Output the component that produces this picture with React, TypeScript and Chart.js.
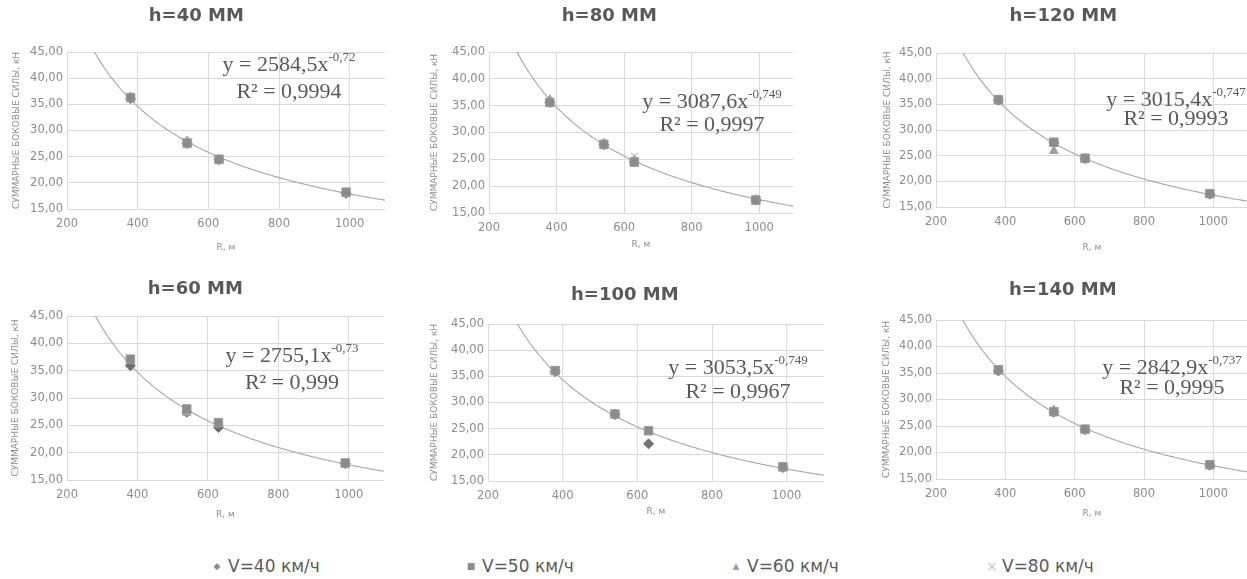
import React, { useEffect, useRef } from 'react';
import { Chart, registerables } from 'chart.js';

Chart.register(...registerables);

// ---------- DATA ----------
const R_VALUES = [380, 540, 630, 990];
const PANEL_TITLES = ['h=40 ММ', 'h=60 ММ', 'h=80 ММ', 'h=100 ММ', 'h=120 ММ', 'h=140 ММ'];
const SERIES_NAMES = ['V=40 км/ч', 'V=50 км/ч', 'V=60 км/ч', 'V=80 км/ч'];

const H40_V40 = [36.1, 27.5, 24.4, 18.0];
const H40_V50 = [36.3, 27.6, 24.5, 18.2];
const H40_V60 = [36.4, 28.0, 24.5, 18.2];
const H40_V80 = [36.2, 27.7, 24.4, 18.1];

const H60_V40 = [35.9, 27.4, 24.6, 18.0];
const H60_V50 = [37.1, 28.0, 25.5, 18.1];
const H60_V60 = [36.9, 27.3, 25.2, 18.0];
const H60_V80 = [37.0, 27.8, 25.0, 18.1];

const H80_V40 = [35.6, 27.7, 24.5, 17.4];
const H80_V50 = [35.6, 27.8, 24.5, 17.4];
const H80_V60 = [36.1, 28.0, 24.8, 17.5];
const H80_V80 = [35.8, 27.7, 25.6, 17.3];

const H100_V40 = [35.9, 27.7, 22.1, 17.6];
const H100_V50 = [36.1, 27.8, 24.6, 17.7];
const H100_V60 = [35.9, 27.6, 24.4, 17.6];
const H100_V80 = [36.0, 27.7, 24.7, 17.7];

const H120_V40 = [35.8, 27.5, 24.4, 17.5];
const H120_V50 = [35.9, 27.6, 24.5, 17.6];
const H120_V60 = [35.9, 25.9, 24.4, 17.5];
const H120_V80 = [35.8, 28.0, 24.6, 17.6];

const H140_V40 = [35.4, 27.6, 24.3, 17.6];
const H140_V50 = [35.6, 27.7, 24.4, 17.7];
const H140_V60 = [35.5, 28.0, 24.3, 17.6];
const H140_V80 = [35.5, 27.7, 24.4, 17.6];

const PANEL_SERIES = [
  [H40_V40, H40_V50, H40_V60, H40_V80],
  [H60_V40, H60_V50, H60_V60, H60_V80],
  [H80_V40, H80_V50, H80_V60, H80_V80],
  [H100_V40, H100_V50, H100_V60, H100_V80],
  [H120_V40, H120_V50, H120_V60, H120_V80],
  [H140_V40, H140_V50, H140_V60, H140_V80],
];

// Power trendline y = A * x^B shown on each panel
const FIT_A = [2584.5, 2755.1, 3087.6, 3053.5, 3015.4, 2842.9];
const FIT_B = [-0.72, -0.73, -0.749, -0.749, -0.747, -0.737];
const FIT_R2 = ['0,9994', '0,999', '0,9997', '0,9967', '0,9993', '0,9995'];

const X_TICKS = [200, 400, 600, 800, 1000];
const Y_TICKS = [15, 20, 25, 30, 35, 40, 45];
const X_MIN = 200;
const X_MAX = 1100;
const Y_MIN = 15;
const Y_MAX = 45;
const Y_AXIS_TITLE = 'СУММАРНЫЕ БОКОВЫЕ СИЛЫ, кН';
const X_AXIS_TITLE = 'R, м';

// ---------- LAYOUT (page pixels) ----------
const LAYOUT = [
  { L: 0, T: 0, W: 415, H: 258, pl: 67, pr: 385, pt: 52, pb: 209, titleCY: 16, yTitleCX: 17, xTitleCY: 248, eq: [222, 13, 40] },
  { L: 0, T: 270, W: 415, H: 258, pl: 67, pr: 384, pt: 316, pb: 480, titleCY: 289, yTitleCX: 16, xTitleCY: 515, eq: [225, 40, 67] },
  { L: 425, T: 0, W: 430, H: 258, pl: 489, pr: 793, pt: 52, pb: 213, titleCY: 16, yTitleCX: 435, xTitleCY: 245, eq: [223, 50, 73] },
  { L: 415, T: 270, W: 430, H: 258, pl: 488, pr: 824, pt: 324, pb: 481, titleCY: 295, yTitleCX: 435, xTitleCY: 512, eq: [250, 44, 68] },
  { L: 850, T: 0, W: 430, H: 258, pl: 936, pr: 1248, pt: 53, pb: 207, titleCY: 16, yTitleCX: 888, xTitleCY: 248, eq: [240, 47, 66] },
  { L: 853, T: 270, W: 430, H: 258, pl: 936, pr: 1248, pt: 320, pb: 479, titleCY: 290, yTitleCX: 887, xTitleCY: 514, eq: [236, 48, 68] },
];

const SERIES_STYLE = [
  { pointStyle: 'rectRot', radius: 5, bg: '#707070', border: '#707070', bw: 1, order: 2 },
  { pointStyle: 'rect', radius: 6, bg: '#8c8c8c', border: '#9a9a9a', bw: 1, order: 0 },
  { pointStyle: 'triangle', radius: 5, bg: '#a0a0a0', border: '#a0a0a0', bw: 1, order: 1 },
  { pointStyle: 'crossRot', radius: 4.5, bg: '#c4c4c4', border: '#c4c4c4', bw: 1.3, order: 3 },
];

const TITLE_FONT = 18;
const AXIS_TITLE_FONT = 9;
const TICK_FONT = 11.5;

const fmt = (v: number) => String(v).replace('.', ',');

function trendPoints(a: number, b: number) {
  const x0 = Math.pow(Y_MAX / a, 1 / b);
  const pts: { x: number; y: number }[] = [{ x: x0, y: Y_MAX }];
  for (let x = Math.ceil(x0 / 5) * 5; x <= X_MAX; x += 5) {
    pts.push({ x, y: a * Math.pow(x, b) });
  }
  return pts;
}

const equationPlugin = {
  id: 'equation',
  afterDraw(chart: any, _args: any, opts: any) {
    if (!opts || !opts.main) return;
    const { ctx, chartArea } = chart;
    ctx.save();
    ctx.fillStyle = '#595959';
    ctx.textBaseline = 'middle';
    ctx.textAlign = 'left';
    const mainFont = '22px "Liberation Serif", "Times New Roman", serif';
    const supFont = '13px "Liberation Serif", "Times New Roman", serif';
    ctx.font = mainFont;
    const w1 = ctx.measureText(opts.main).width;
    ctx.font = supFont;
    const w2 = ctx.measureText(opts.sup).width;
    const cx = chartArea.left + opts.dx;
    const x = cx - (w1 + w2) / 2;
    const y1 = chartArea.top + opts.dy1;
    ctx.font = mainFont;
    ctx.fillText(opts.main, x, y1);
    ctx.font = supFont;
    ctx.fillText(opts.sup, x + w1, y1 - 7);
    ctx.font = mainFont;
    ctx.textAlign = 'center';
    ctx.fillText(opts.r2, cx, chartArea.top + opts.dy2);
    ctx.restore();
  },
};

function Panel({ idx }: { idx: number }) {
  const ref = useRef<HTMLCanvasElement>(null);
  const lay = LAYOUT[idx];

  useEffect(() => {
    const canvas = ref.current;
    if (!canvas) return;
    const titleLH = TITLE_FONT * 1.2;
    const axLH = AXIS_TITLE_FONT * 1.2;
    const titlePadTop = lay.titleCY - lay.T - titleLH / 2;
    const titlePadBottom = lay.pt - lay.T - titleLH - titlePadTop;
    const padLeft = lay.yTitleCX - lay.L - 4 - axLH / 2;
    const yAxisWidth = lay.pl - lay.L - padLeft;
    const padRight = lay.L + lay.W - lay.pr;
    const padBottom = lay.T + lay.H - lay.xTitleCY - axLH / 2 - 4;
    const xAxisHeight = lay.T + lay.H - padBottom - lay.pb;

    const series = PANEL_SERIES[idx];
    const datasets: any[] = series.map((vals, si) => {
      const st = SERIES_STYLE[si];
      return {
        type: 'scatter',
        label: SERIES_NAMES[si],
        data: R_VALUES.map((r, i) => ({ x: r, y: vals[i] })),
        pointStyle: st.pointStyle,
        pointRadius: st.radius,
        pointBackgroundColor: st.bg,
        pointBorderColor: st.border,
        pointBorderWidth: st.bw,
        showLine: false,
        order: st.order,
      };
    });
    datasets.push({
      type: 'line',
      label: 'trend',
      data: trendPoints(FIT_A[idx], FIT_B[idx]),
      borderColor: '#a6a6a6',
      borderWidth: 1.1,
      pointRadius: 0,
      fill: false,
      tension: 0,
      order: 10,
    });

    const chart = new Chart(canvas, {
      type: 'scatter',
      data: { datasets },
      plugins: [equationPlugin],
      options: {
        responsive: false,
        animation: false,
        events: [],
        layout: { padding: { top: 0, left: padLeft, right: padRight, bottom: padBottom } },
        plugins: {
          legend: { display: false },
          tooltip: { enabled: false },
          title: {
            display: true,
            text: PANEL_TITLES[idx],
            color: '#595959',
            font: { family: '"DejaVu Sans", sans-serif', size: TITLE_FONT, weight: 'bold' },
            padding: { top: titlePadTop, bottom: titlePadBottom },
          },
          equation: {
            main: `y = ${fmt(FIT_A[idx])}x`,
            sup: fmt(FIT_B[idx]),
            r2: `R² = ${FIT_R2[idx]}`,
            dx: lay.eq[0],
            dy1: lay.eq[1],
            dy2: lay.eq[2],
          },
        } as any,
        scales: {
          x: {
            type: 'linear',
            min: X_MIN,
            max: X_MAX,
            afterBuildTicks: (s: any) => {
              s.ticks = X_TICKS.map((v) => ({ value: v }));
            },
            afterFit: (s: any) => {
              s.height = xAxisHeight;
            },
            grid: { color: '#d9d9d9', lineWidth: 1, drawTicks: false },
            border: { display: false },
            ticks: {
              padding: 8,
              color: '#8c8c8c',
              font: { family: '"DejaVu Sans", sans-serif', size: TICK_FONT },
              maxRotation: 0,
              callback: (v: any) => String(v),
            },
            title: {
              display: true,
              text: X_AXIS_TITLE,
              color: '#8c8c8c',
              font: { family: '"DejaVu Sans", sans-serif', size: AXIS_TITLE_FONT },
              padding: { top: 4, bottom: 4 },
            },
          },
          y: {
            type: 'linear',
            min: Y_MIN,
            max: Y_MAX,
            afterBuildTicks: (s: any) => {
              s.ticks = Y_TICKS.map((v) => ({ value: v }));
            },
            afterFit: (s: any) => {
              s.width = yAxisWidth;
            },
            grid: { color: '#d9d9d9', lineWidth: 1, drawTicks: false },
            border: { display: false },
            ticks: {
              padding: 4,
              color: '#8c8c8c',
              font: { family: '"DejaVu Sans", sans-serif', size: TICK_FONT },
              callback: (v: any) => Number(v).toFixed(2).replace('.', ','),
            },
            title: {
              display: true,
              text: Y_AXIS_TITLE,
              color: '#8c8c8c',
              font: { family: '"DejaVu Sans", sans-serif', size: AXIS_TITLE_FONT },
              padding: { top: 4, bottom: 4 },
            },
          },
        },
      } as any,
    });
    return () => chart.destroy();
  }, [idx]);

  return (
    <canvas
      ref={ref}
      width={lay.W}
      height={lay.H}
      style={{ position: 'absolute', left: lay.L, top: lay.T, width: lay.W, height: lay.H }}
    />
  );
}

const LEGEND_MARKERS = ['◆', '■', '▲', '×'];
const LEGEND_COLORS = ['#8a8a8a', '#8c8c8c', '#a0a0a0', '#c4c4c4'];
const LEGEND_X = [212, 466, 731, 986];
const LEGEND_MARKER_SIZE = [9, 9, 9, 14];

export default function App() {
  return (
    <div
      style={{
        position: 'absolute',
        left: 0,
        top: 0,
        width: 1247,
        height: 579,
        overflow: 'hidden',
        background: '#ffffff',
      }}
    >
      {LAYOUT.map((_, i) => (
        <Panel key={i} idx={i} />
      ))}
      {SERIES_NAMES.map((name, i) => (
        <div
          key={name}
          style={{
            position: 'absolute',
            left: LEGEND_X[i],
            top: 554,
            height: 24,
            display: 'flex',
            alignItems: 'center',
            whiteSpace: 'nowrap',
            fontFamily: '"DejaVu Sans", sans-serif',
            fontSize: 17,
            color: '#595959',
          }}
        >
          <span style={{ color: LEGEND_COLORS[i], fontSize: LEGEND_MARKER_SIZE[i], width: 10, display: 'inline-block', textAlign: 'center', marginRight: 6 }}>
            {LEGEND_MARKERS[i]}
          </span>
          <span>{name}</span>
        </div>
      ))}
    </div>
  );
}
